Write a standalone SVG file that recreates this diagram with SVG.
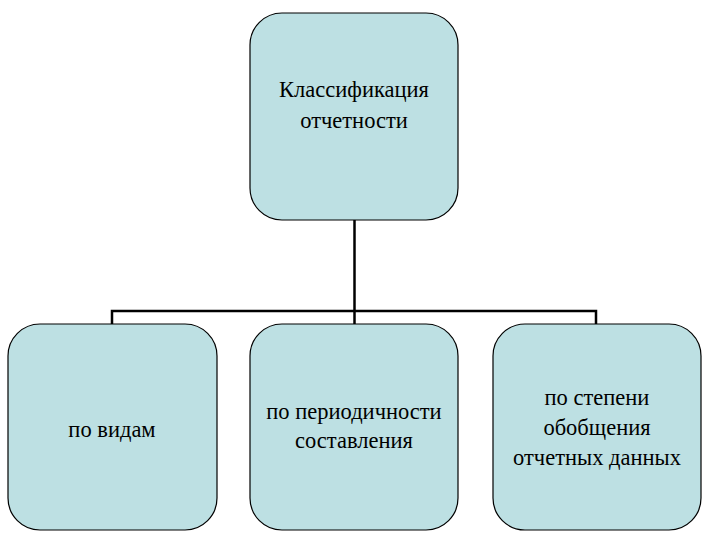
<svg xmlns="http://www.w3.org/2000/svg" width="720" height="540" viewBox="0 0 720 540">
<style>
.node{fill:#bde0e3;stroke:#000;stroke-width:1.2}
.c{fill:none;stroke:#000;stroke-width:2.5}
</style>
<rect width="720" height="540" fill="#fff"/>
<g id="connectors">
<path class="c" d="M354.5 220 V325"/>
<path class="c" d="M112 325 V311 H596 V325"/>
</g>
<g font-family="Liberation Serif, Times New Roman, Times, serif" font-size="22.5" text-anchor="middle" fill="#000">
<g id="root">
<rect class="node" x="250" y="13" width="208" height="207" rx="32"/>
<text x="354" y="97">Классификация</text>
<text x="354" y="128">отчетности</text>
</g>
<g id="n1">
<rect class="node" x="8" y="324" width="209" height="206" rx="32"/>
<text x="112" y="437">по видам</text>
</g>
<g id="n2">
<rect class="node" x="250" y="324" width="208" height="206" rx="32"/>
<text x="354" y="419">по периодичности</text>
<text x="354" y="448">составления</text>
</g>
<g id="n3">
<rect class="node" x="493" y="324" width="208" height="206" rx="32"/>
<text x="597" y="405">по степени</text>
<text x="597" y="435">обобщения</text>
<text x="597" y="465">отчетных данных</text>
</g>
</g>
</svg>
